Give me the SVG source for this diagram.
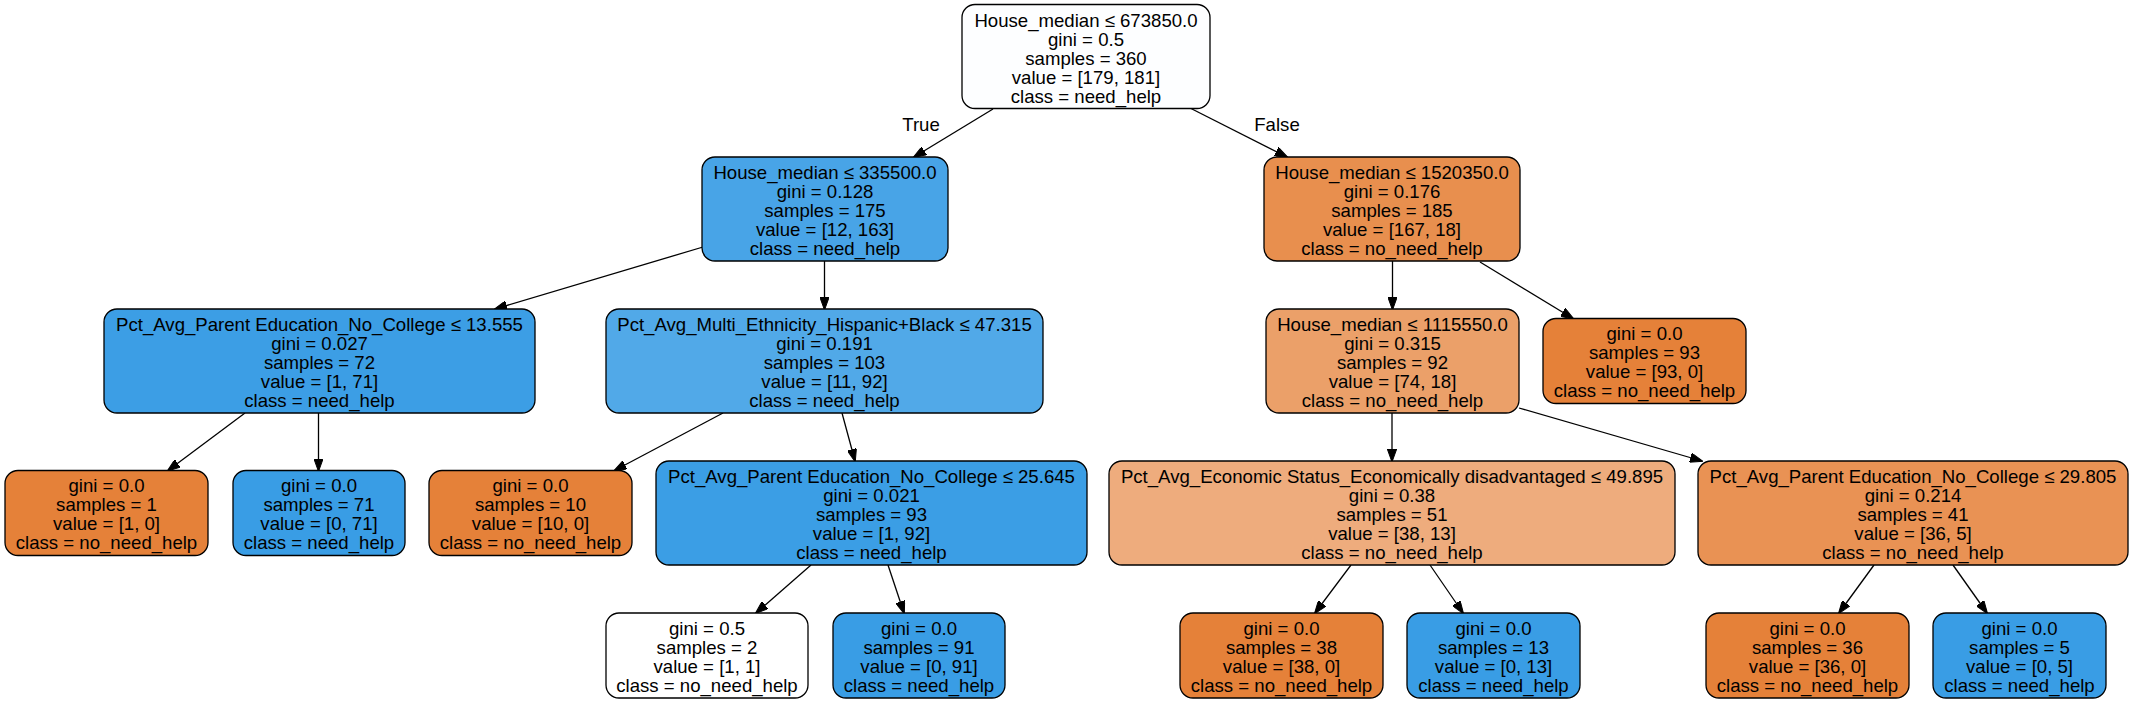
<svg xmlns="http://www.w3.org/2000/svg" width="2134" height="704" viewBox="0 0 2134 704">
<style>
.n rect{stroke:#000;stroke-width:1.3}
text{font-family:"Liberation Sans",Arial,Helvetica,sans-serif;font-size:18.6px;fill:#000;text-anchor:middle}
.e path{stroke:#000;stroke-width:1.3;fill:none;marker-end:url(#ah)}
.or{fill:#e58139}.bl{fill:#399de5}
</style>
<defs>
<marker id="ah" markerUnits="userSpaceOnUse" viewBox="0 0 13 9.4" markerWidth="13" markerHeight="9.4" refX="12" refY="4.7" orient="auto">
<path d="M0,0 L13,4.7 L0,9.4 z" fill="#000" stroke="#000" stroke-width="1"/>
</marker>
</defs>
<rect width="2134" height="704" fill="#fff"/>
<g id="edges" class="e">
<path d="M993,109 L914,157"/>
<path d="M1190,108 L1287,157"/>
<path d="M703,247 L495,309"/>
<path d="M824.5,261 L824.5,309"/>
<path d="M1392.5,261 L1392.5,309"/>
<path d="M1480,262 L1573,318.5"/>
<path d="M245,413 L168,470.5"/>
<path d="M318.5,413 L318.5,470.5"/>
<path d="M723,413 L614.5,470.5"/>
<path d="M842,413 L855,461"/>
<path d="M1392,413 L1392,461"/>
<path d="M1519,408 L1702,461"/>
<path d="M811,565 L756,613"/>
<path d="M888,565 L904,613"/>
<path d="M1351,565 L1315,613"/>
<path d="M1430,565 L1463,613"/>
<path d="M1874,565 L1839,613"/>
<path d="M1953,565 L1987,613"/>
</g>
<g id="edge-labels">
<text x="921" y="131">True</text>
<text x="1277" y="131">False</text>
</g>
<g id="n0" class="n"><rect x="962" y="4.5" width="248" height="104" rx="13" fill="#fdfeff"/>
<text x="1086" y="26.5">House_median ≤ 673850.0</text><text x="1086" y="45.5">gini = 0.5</text><text x="1086" y="64.5">samples = 360</text><text x="1086" y="83.5">value = [179, 181]</text><text x="1086" y="102.5">class = need_help</text></g>
<g id="n1" class="n"><rect x="702" y="157" width="246" height="104" rx="13" fill="#48a4e7"/>
<text x="825" y="179">House_median ≤ 335500.0</text><text x="825" y="198">gini = 0.128</text><text x="825" y="217">samples = 175</text><text x="825" y="236">value = [12, 163]</text><text x="825" y="255">class = need_help</text></g>
<g id="n2" class="n"><rect x="1264" y="157" width="256" height="104" rx="13" fill="#e88f4e"/>
<text x="1392" y="179">House_median ≤ 1520350.0</text><text x="1392" y="198">gini = 0.176</text><text x="1392" y="217">samples = 185</text><text x="1392" y="236">value = [167, 18]</text><text x="1392" y="255">class = no_need_help</text></g>
<g id="n3" class="n"><rect x="104" y="309" width="431" height="104" rx="13" fill="#3c9ee5"/>
<text x="319.5" y="331">Pct_Avg_Parent Education_No_College ≤ 13.555</text><text x="319.5" y="350">gini = 0.027</text><text x="319.5" y="369">samples = 72</text><text x="319.5" y="388">value = [1, 71]</text><text x="319.5" y="407">class = need_help</text></g>
<g id="n4" class="n"><rect x="606" y="309" width="437" height="104" rx="13" fill="#51a9e8"/>
<text x="824.5" y="331">Pct_Avg_Multi_Ethnicity_Hispanic+Black ≤ 47.315</text><text x="824.5" y="350">gini = 0.191</text><text x="824.5" y="369">samples = 103</text><text x="824.5" y="388">value = [11, 92]</text><text x="824.5" y="407">class = need_help</text></g>
<g id="n5" class="n"><rect x="1266" y="309" width="253" height="104" rx="13" fill="#eba069"/>
<text x="1392.5" y="331">House_median ≤ 1115550.0</text><text x="1392.5" y="350">gini = 0.315</text><text x="1392.5" y="369">samples = 92</text><text x="1392.5" y="388">value = [74, 18]</text><text x="1392.5" y="407">class = no_need_help</text></g>
<g id="n6" class="n"><rect x="1543" y="318.5" width="203" height="85" rx="13" class="or"/>
<text x="1644.5" y="340">gini = 0.0</text><text x="1644.5" y="359">samples = 93</text><text x="1644.5" y="378">value = [93, 0]</text><text x="1644.5" y="397">class = no_need_help</text></g>
<g id="n7" class="n"><rect x="5" y="470.5" width="203" height="85" rx="13" class="or"/>
<text x="106.5" y="492">gini = 0.0</text><text x="106.5" y="511">samples = 1</text><text x="106.5" y="530">value = [1, 0]</text><text x="106.5" y="549">class = no_need_help</text></g>
<g id="n8" class="n"><rect x="233" y="470.5" width="172" height="85" rx="13" class="bl"/>
<text x="319" y="492">gini = 0.0</text><text x="319" y="511">samples = 71</text><text x="319" y="530">value = [0, 71]</text><text x="319" y="549">class = need_help</text></g>
<g id="n9" class="n"><rect x="429" y="470.5" width="203" height="85" rx="13" class="or"/>
<text x="530.5" y="492">gini = 0.0</text><text x="530.5" y="511">samples = 10</text><text x="530.5" y="530">value = [10, 0]</text><text x="530.5" y="549">class = no_need_help</text></g>
<g id="n10" class="n"><rect x="656" y="461" width="431" height="104" rx="13" fill="#3b9ee5"/>
<text x="871.5" y="483">Pct_Avg_Parent Education_No_College ≤ 25.645</text><text x="871.5" y="502">gini = 0.021</text><text x="871.5" y="521">samples = 93</text><text x="871.5" y="540">value = [1, 92]</text><text x="871.5" y="559">class = need_help</text></g>
<g id="n11" class="n"><rect x="1109" y="461" width="566" height="104" rx="13" fill="#eeac7d"/>
<text x="1392" y="483">Pct_Avg_Economic Status_Economically disadvantaged ≤ 49.895</text><text x="1392" y="502">gini = 0.38</text><text x="1392" y="521">samples = 51</text><text x="1392" y="540">value = [38, 13]</text><text x="1392" y="559">class = no_need_help</text></g>
<g id="n12" class="n"><rect x="1698" y="461" width="430" height="104" rx="13" fill="#e99254"/>
<text x="1913" y="483">Pct_Avg_Parent Education_No_College ≤ 29.805</text><text x="1913" y="502">gini = 0.214</text><text x="1913" y="521">samples = 41</text><text x="1913" y="540">value = [36, 5]</text><text x="1913" y="559">class = no_need_help</text></g>
<g id="n13" class="n"><rect x="606" y="613" width="202" height="85" rx="13" fill="#ffffff"/>
<text x="707" y="634.5">gini = 0.5</text><text x="707" y="653.5">samples = 2</text><text x="707" y="672.5">value = [1, 1]</text><text x="707" y="691.5">class = no_need_help</text></g>
<g id="n14" class="n"><rect x="833" y="613" width="172" height="85" rx="13" class="bl"/>
<text x="919" y="634.5">gini = 0.0</text><text x="919" y="653.5">samples = 91</text><text x="919" y="672.5">value = [0, 91]</text><text x="919" y="691.5">class = need_help</text></g>
<g id="n15" class="n"><rect x="1180" y="613" width="203" height="85" rx="13" class="or"/>
<text x="1281.5" y="634.5">gini = 0.0</text><text x="1281.5" y="653.5">samples = 38</text><text x="1281.5" y="672.5">value = [38, 0]</text><text x="1281.5" y="691.5">class = no_need_help</text></g>
<g id="n16" class="n"><rect x="1407" y="613" width="173" height="85" rx="13" class="bl"/>
<text x="1493.5" y="634.5">gini = 0.0</text><text x="1493.5" y="653.5">samples = 13</text><text x="1493.5" y="672.5">value = [0, 13]</text><text x="1493.5" y="691.5">class = need_help</text></g>
<g id="n17" class="n"><rect x="1706" y="613" width="203" height="85" rx="13" class="or"/>
<text x="1807.5" y="634.5">gini = 0.0</text><text x="1807.5" y="653.5">samples = 36</text><text x="1807.5" y="672.5">value = [36, 0]</text><text x="1807.5" y="691.5">class = no_need_help</text></g>
<g id="n18" class="n"><rect x="1933" y="613" width="173" height="85" rx="13" class="bl"/>
<text x="2019.5" y="634.5">gini = 0.0</text><text x="2019.5" y="653.5">samples = 5</text><text x="2019.5" y="672.5">value = [0, 5]</text><text x="2019.5" y="691.5">class = need_help</text></g>
</svg>
